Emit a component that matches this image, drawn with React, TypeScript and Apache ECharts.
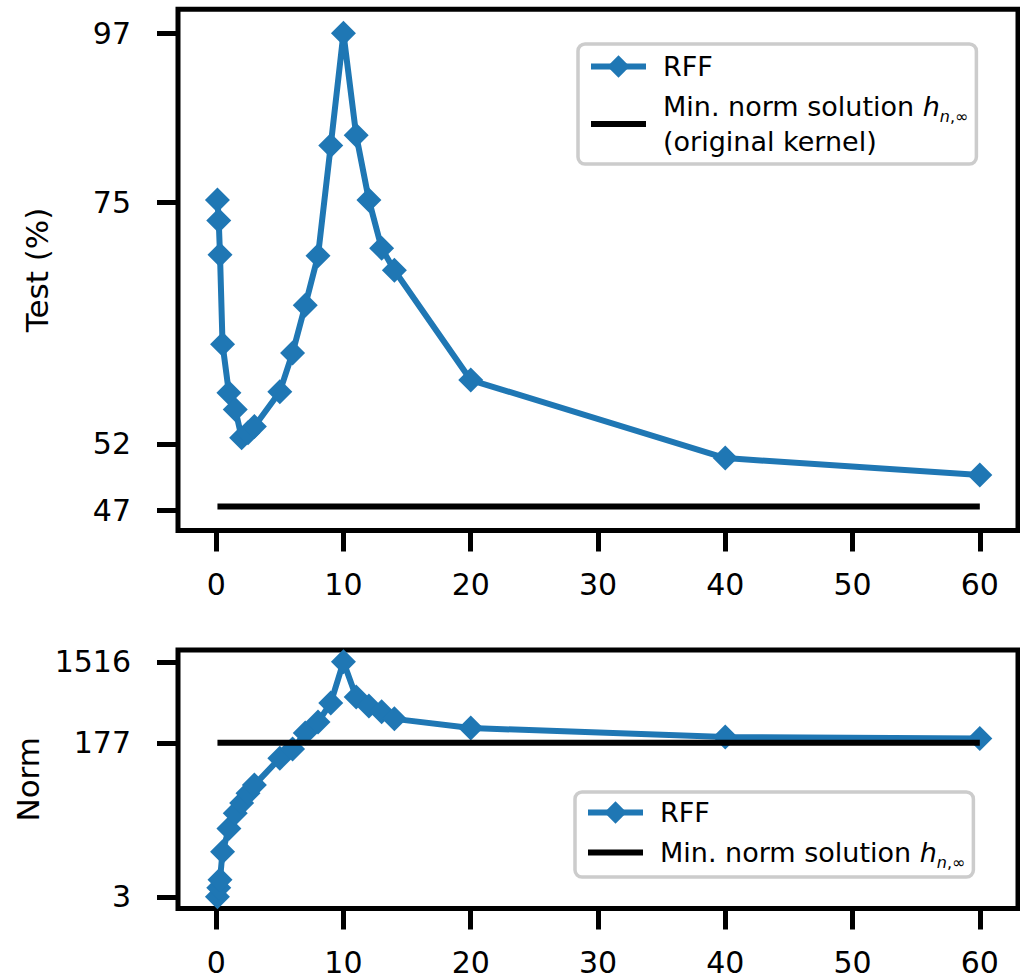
import React, { useEffect, useRef } from "react";
import * as echarts from "echarts";

// ---- data ----
const ratios = [0.1, 0.2, 0.3, 0.5, 1, 1.5, 2, 2.5, 3, 5, 6, 7, 8, 9, 10, 11, 12, 13, 14, 20, 40, 60];
const rffTest = [75.3, 73.0, 69.3, 60.5, 56.2, 54.8, 52.5, 52.9, 53.4, 56.3, 59.7, 64.2, 69.2, 81.8, 97, 83.1, 75.3, 70.0, 67.7, 57.3, 50.9, 49.6];
const rffNorm = [3, 3.8, 4.7, 9.9, 18.3, 27.5, 35.9, 46.7, 57.8, 118, 150, 229, 307, 508, 1516, 595, 469, 403, 334, 262, 206, 198];
const minNormTest = 47.3;
const minNormNorm = 177;
const xTicks = [0, 10, 20, 30, 40, 50, 60];
const testTicks = [47, 52, 75, 97];
const normTicks = [3, 177, 1516];
const testRange = [45.6, 100.6];
const normRange = [2.2, 2070];
const xRange = [-3, 63];

const FONT = "DejaVu Sans";
const BLUE = "#1f77b4";
const TICK_FS = 30;
const NAME_FS = 31;
const LEG_FS = 27;
const lg = (v: number) => Math.log10(v);

const legendRich = {
  hi: { fontFamily: FONT, fontSize: LEG_FS, fontStyle: "italic", color: "#000", lineHeight: 35 },
  si: { fontFamily: FONT, fontSize: 16, fontStyle: "italic", color: "#000", lineHeight: 23, verticalAlign: "bottom" },
  s: { fontFamily: FONT, fontSize: 16, color: "#000", lineHeight: 23, verticalAlign: "bottom" },
};

function legendFormatter(name: string) {
  if (name === "RFF") return "RFF";
  const base = "Min. norm solution {hi|h}{si|n}{s|,∞}";
  if (name === "minTop") return base + "\n(original kernel)";
  return base;
}

export default function App() {
  const ref = useRef<HTMLDivElement>(null);
  useEffect(() => {
    if (!ref.current) return;
    const chart = echarts.init(ref.current, undefined, { renderer: "svg" });

    const xAxisBase = (gridIndex: number) => ({
      type: "value",
      gridIndex,
      min: xRange[0],
      max: xRange[1],
      axisLine: { show: false, onZero: false },
      splitLine: { show: false },
      axisTick: { show: true, length: 21, customValues: xTicks, lineStyle: { color: "#000", width: 5 } },
      axisLabel: {
        customValues: xTicks,
        margin: 39,
        fontFamily: FONT,
        fontSize: TICK_FS,
        color: "#000",
      },
    });

    const yAxisBase = (gridIndex: number, range: number[], ticks: number[], name: string) => ({
      type: "value",
      gridIndex,
      min: lg(range[0]),
      max: lg(range[1]),
      name,
      nameLocation: "middle",
      nameGap: 126,
      nameTextStyle: { fontFamily: FONT, fontSize: NAME_FS, color: "#000" },
      axisLine: { show: false, onZero: false },
      splitLine: { show: false },
      axisTick: { show: true, length: 21, customValues: ticks.map(lg), lineStyle: { color: "#000", width: 5 } },
      axisLabel: {
        customValues: ticks.map(lg),
        margin: 47,
        fontFamily: FONT,
        fontSize: TICK_FS,
        color: "#000",
        formatter: (v: number) => String(Math.round(Math.pow(10, v))),
      },
    });

    const legendBase = {
      orient: "vertical",
      itemWidth: 55,
      itemHeight: 28,
      itemGap: 5,
      backgroundColor: "rgba(255,255,255,0.8)",
      borderColor: "#cccccc",
      borderWidth: 3.5,
      borderRadius: 7,
      formatter: legendFormatter,
      selectedMode: false,
      lineStyle: { width: 6 },
      textStyle: {
        fontFamily: FONT,
        fontSize: LEG_FS,
        color: "#000",
        lineHeight: 35,
        padding: [0, 0, 0, 12],
        rich: legendRich,
      },
    };

    const option = {
      animation: false,
      backgroundColor: "#fff",
      grid: [
        { left: 178, top: 9.3, width: 840, height: 521.2, show: true, borderColor: "#000", borderWidth: 5, backgroundColor: "transparent" },
        { left: 178, top: 650, width: 840, height: 258.5, show: true, borderColor: "#000", borderWidth: 5, backgroundColor: "transparent" },
      ],
      xAxis: [xAxisBase(0), xAxisBase(1)],
      yAxis: [
        yAxisBase(0, testRange, testTicks, "Test (%)"),
        yAxisBase(1, normRange, normTicks, "Norm"),
      ],
      legend: [
        {
          ...legendBase,
          data: [{ name: "RFF" }, { name: "minTop", itemStyle: { opacity: 0 } }],
          left: 578,
          top: 44,
          padding: [5, 8, 5, 10],
        },
        {
          ...legendBase,
          data: [{ name: "RFF" }, { name: "minBottom", itemStyle: { opacity: 0 } }],
          left: 575,
          top: 792,
          padding: [3, 8, 7, 10],
        },
      ],
      series: [
        {
          name: "RFF",
          type: "line",
          xAxisIndex: 0,
          yAxisIndex: 0,
          data: ratios.map((x, i) => [x, lg(rffTest[i])]),
          symbol: "diamond",
          symbolSize: 25,
          itemStyle: { color: BLUE },
          lineStyle: { color: BLUE, width: 6 },
          emphasis: { disabled: true },
          z: 2,
        },
        {
          name: "minTop",
          type: "line",
          xAxisIndex: 0,
          yAxisIndex: 0,
          data: ratios.map((x) => [x, lg(minNormTest)]),
          symbol: "none",
          itemStyle: { color: "#000" },
          lineStyle: { color: "#000", width: 6 },
          emphasis: { disabled: true },
          z: 3,
        },
        {
          name: "RFF",
          type: "line",
          xAxisIndex: 1,
          yAxisIndex: 1,
          data: ratios.map((x, i) => [x, lg(rffNorm[i])]),
          symbol: "diamond",
          symbolSize: 25,
          itemStyle: { color: BLUE },
          lineStyle: { color: BLUE, width: 6 },
          emphasis: { disabled: true },
          z: 2,
        },
        {
          name: "minBottom",
          type: "line",
          xAxisIndex: 1,
          yAxisIndex: 1,
          data: ratios.map((x) => [x, lg(minNormNorm)]),
          symbol: "none",
          itemStyle: { color: "#000" },
          lineStyle: { color: "#000", width: 6 },
          emphasis: { disabled: true },
          z: 3,
        },
      ],
    };

    chart.setOption(option as any);
    return () => chart.dispose();
  }, []);

  return (
    <div
      ref={ref}
      style={{ position: "absolute", left: 0, top: 0, width: 1020, height: 980, background: "#fff" }}
    />
  );
}
